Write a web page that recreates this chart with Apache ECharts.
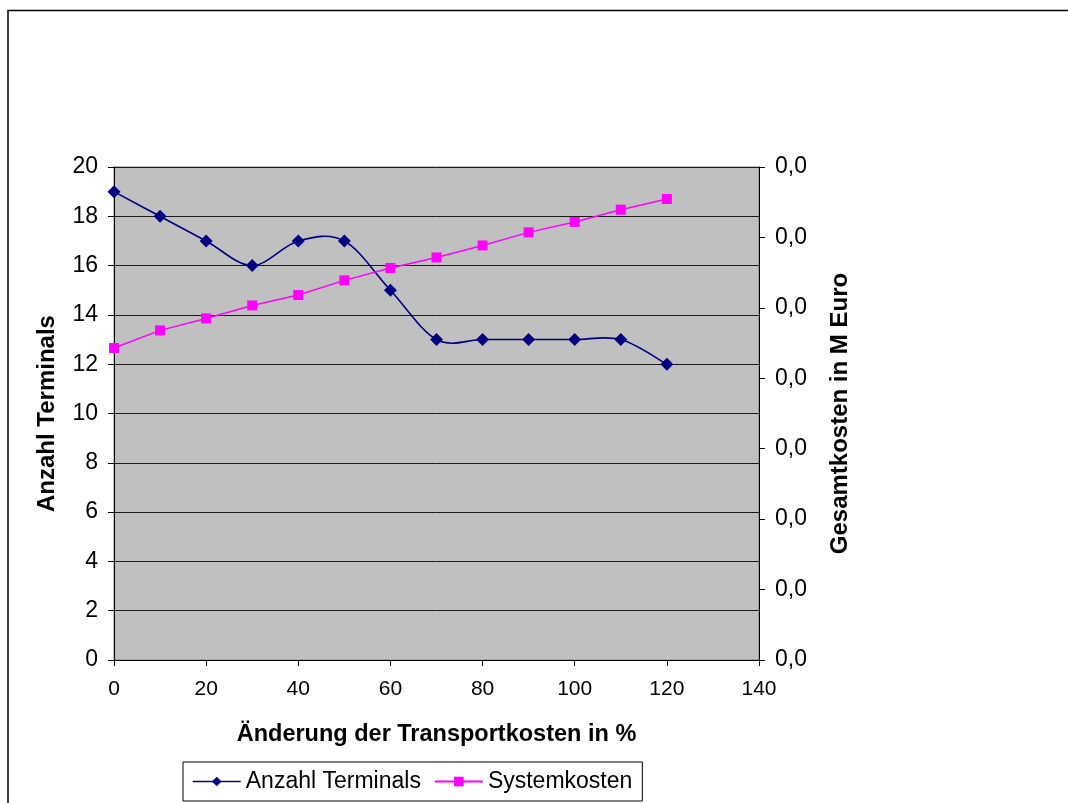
<!DOCTYPE html>
<html>
<head>
<meta charset="utf-8">
<script src="https://cdn.jsdelivr.net/npm/echarts@6/dist/echarts.min.js"></script>
<style>
  html, body { margin: 0; padding: 0; background: #fff; }
  #chart { width: 1068px; height: 803px; }
</style>
</head>
<body>
<div id="chart"></div>
<script>
// Änderung der Transportkosten in %
const changes = [0, 10, 20, 30, 40, 50, 60, 70, 80, 90, 100, 110, 120];
// Anzahl Terminals (linke Achse)
const terminals = [19, 18, 17, 16, 17, 17, 15, 13, 13, 13, 13, 13, 12];
// Systemkosten in M Euro (rechte Achse)
const systemCosts = [0.02215, 0.02340, 0.02425, 0.02517, 0.02591, 0.02695, 0.02783,
                     0.02858, 0.02943, 0.03036, 0.03110, 0.03197, 0.03273];

const seriesNames = ['Anzahl Terminals', 'Systemkosten'];
const axisTitles = {
  x: 'Änderung der Transportkosten in %',
  left: 'Anzahl Terminals',
  right: 'Gesamtkosten in M Euro'
};

const NAVY = '#000080';
const MAGENTA = '#ff00ff';
const font = '"Liberation Sans", Arial, sans-serif';
const toPairs = (ys) => changes.map((x, i) => [x, ys[i]]);

// Smoothed curve through the terminal counts (Catmull-Rom as cubic Bezier),
// positioned via the chart's own coordinate system.
function renderSmoothCurve(params, api) {
  if (params.dataIndex !== 0) return null;
  const pts = changes.map((x, i) => api.coord([x, terminals[i]]));
  const n = pts.length;
  let d = 'M' + pts[0][0] + ' ' + pts[0][1];
  for (let i = 0; i < n - 1; i++) {
    const p0 = pts[Math.max(i - 1, 0)];
    const p1 = pts[i];
    const p2 = pts[i + 1];
    const p3 = pts[Math.min(i + 2, n - 1)];
    const c1x = p1[0] + (p2[0] - p0[0]) / 6;
    const c1y = p1[1] + (p2[1] - p0[1]) / 6;
    const c2x = p2[0] - (p3[0] - p1[0]) / 6;
    const c2y = p2[1] - (p3[1] - p1[1]) / 6;
    d += ' C' + c1x + ' ' + c1y + ' ' + c2x + ' ' + c2y + ' ' + p2[0] + ' ' + p2[1];
  }
  return {
    type: 'path',
    shape: { pathData: d },
    style: { stroke: NAVY, lineWidth: 1.6, fill: null }
  };
}

const chart = echarts.init(document.getElementById('chart'), null, { renderer: 'canvas' });

chart.setOption({
  backgroundColor: '#ffffff',
  animation: false,
  textStyle: { fontFamily: font },
  graphic: [
    // outer frame of the chart area
    { type: 'polyline', z: 0, silent: true,
      shape: { points: [[8, 803], [8, 10.5], [1068, 10.5]] },
      style: { stroke: '#000', lineWidth: 1.5, fill: null } }
  ],
  grid: {
    left: 114, right: 309, top: 167, bottom: 143,
    show: true, backgroundColor: '#c0c0c0', borderColor: '#808080', borderWidth: 1
  },
  legend: {
    left: 183, top: 762,
    padding: [8, 10, 8, 9],
    itemGap: 13,
    itemWidth: 48, itemHeight: 12,
    borderColor: '#000', borderWidth: 1,
    backgroundColor: '#fff',
    textStyle: { fontFamily: font, fontSize: 23, color: '#000' },
    data: [
      { name: seriesNames[0], lineStyle: { color: NAVY, width: 1.5, opacity: 1 } },
      { name: seriesNames[1] }
    ]
  },
  xAxis: {
    type: 'value', min: 0, max: 140, interval: 20,
    name: axisTitles.x, nameLocation: 'middle', nameGap: 63,
    nameTextStyle: { fontFamily: font, fontSize: 23.5, fontWeight: 'bold', color: '#000' },
    axisLine: { show: true, onZero: false, lineStyle: { color: '#000', width: 1 } },
    axisTick: { show: true, inside: false, length: 6, lineStyle: { color: '#000' } },
    axisLabel: { margin: 19, fontSize: 21, color: '#000', fontFamily: font },
    splitLine: { show: false }
  },
  yAxis: [
    {
      type: 'value', position: 'left', min: 0, max: 20, interval: 2,
      name: axisTitles.left, nameLocation: 'middle', nameGap: 55, nameRotate: 90,
      nameTextStyle: { fontFamily: font, fontSize: 24, fontWeight: 'bold', color: '#000' },
      axisLine: { show: true, lineStyle: { color: '#000', width: 1 } },
      axisTick: { show: true, inside: false, length: 6, lineStyle: { color: '#000' } },
      axisLabel: { margin: 16, fontSize: 23, color: '#000', fontFamily: font },
      splitLine: { show: true, lineStyle: { color: '#1a1a1a', width: 1 } }
    },
    {
      type: 'value', position: 'right', min: 0, max: 0.035, interval: 0.005,
      name: axisTitles.right, nameLocation: 'middle', nameGap: 69, nameRotate: 90,
      nameTextStyle: { fontFamily: font, fontSize: 24, fontWeight: 'bold', color: '#000' },
      axisLine: { show: true, lineStyle: { color: '#000', width: 1 } },
      axisTick: { show: true, inside: false, length: 6, lineStyle: { color: '#000' } },
      axisLabel: {
        margin: 16, fontSize: 23, color: '#000', fontFamily: font,
        formatter: (v) => v.toFixed(1).replace('.', ',')
      },
      splitLine: { show: false }
    }
  ],
  series: [
    {
      name: 'terminalCurve', type: 'custom', yAxisIndex: 0,
      data: toPairs(terminals),
      encode: { x: 0, y: 1 },
      renderItem: renderSmoothCurve,
      silent: true,
      z: 2
    },
    {
      name: seriesNames[0], type: 'line', yAxisIndex: 0,
      data: toPairs(terminals),
      symbol: 'diamond', symbolSize: 13,
      lineStyle: { color: NAVY, width: 1.5, opacity: 0 },
      itemStyle: { color: NAVY },
      z: 4
    },
    {
      name: seriesNames[1], type: 'line', yAxisIndex: 1,
      data: toPairs(systemCosts),
      smooth: false,
      symbol: 'rect', symbolSize: 10,
      lineStyle: { color: MAGENTA, width: 1.5 },
      itemStyle: { color: MAGENTA },
      z: 3
    }
  ]
});
</script>
</body>
</html>
